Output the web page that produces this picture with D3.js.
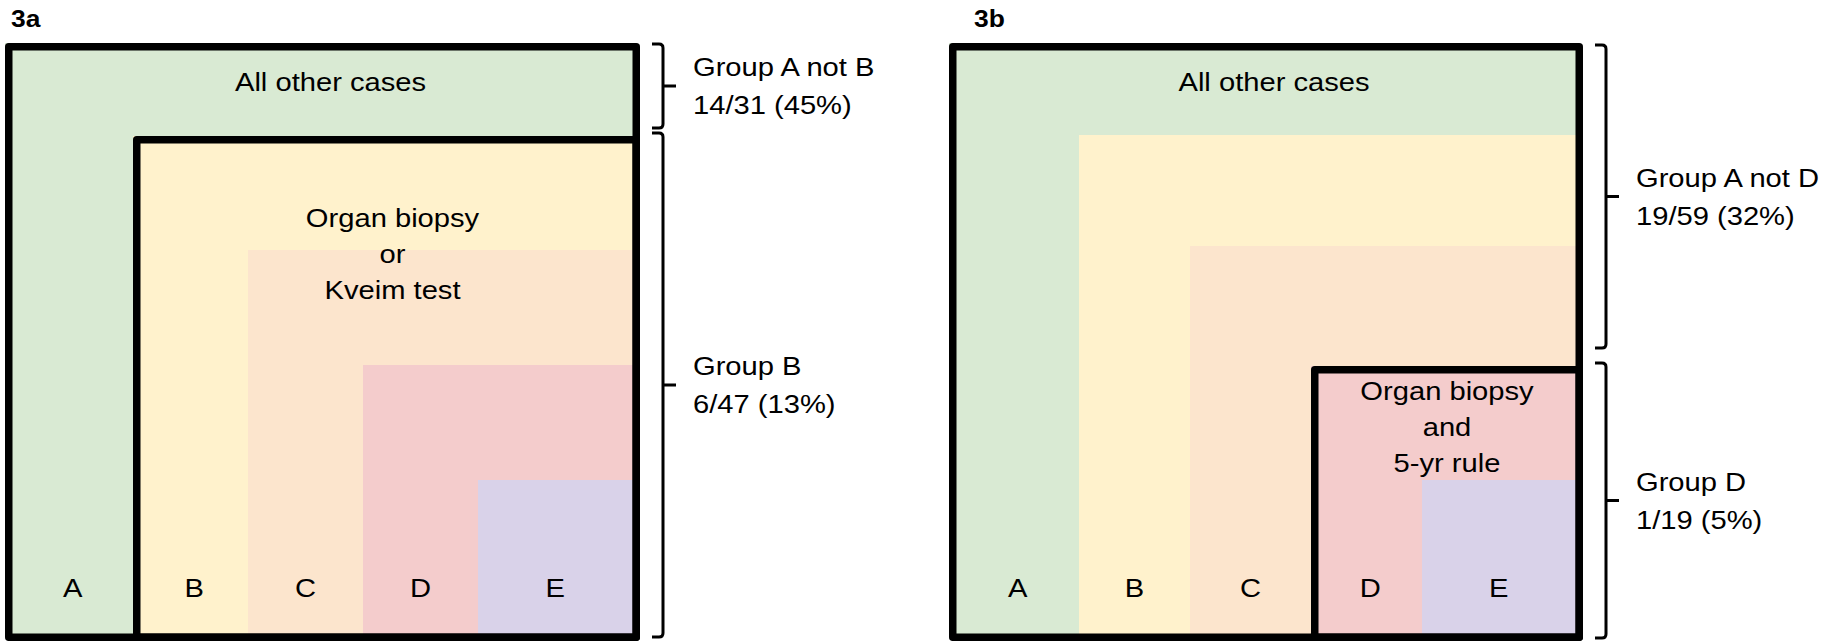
<!DOCTYPE html>
<html>
<head>
<meta charset="utf-8">
<script src="https://cdn.jsdelivr.net/npm/d3@7"></script>
<style>
  html, body { margin: 0; padding: 0; background: #ffffff; }
  svg { display: block; }
  text { font-family: "Liberation Sans", Arial, sans-serif; fill: #000; }
</style>
</head>
<body>
<svg id="chart" width="1837" height="641"></svg>
<script>
// ---------------- DATA ----------------
const panelIds = ["3a", "3b"];
const categories = ["A", "B", "C", "D", "E"];
const outerLabel = "All other cases";
// the category where the framed (highlighted) definition starts
const framedStart = ["B", "D"];
const framedLabels3a = ["Organ biopsy", "or", "Kveim test"];
const framedLabels3b = ["Organ biopsy", "and", "5-yr rule"];
const groupNames3a = ["Group A not B", "Group B"];
const groupEvents3a = [14, 6];
const groupTotals3a = [31, 47];
const groupNames3b = ["Group A not D", "Group D"];
const groupEvents3b = [19, 1];
const groupTotals3b = [59, 19];

// ---------------- STYLE / LAYOUT ----------------
const fillColors = ["#d9ead3", "#fff2cc", "#fce5cd", "#f4cccc", "#d9d2e9"];
const FRAME_W = 7.5;
const FONT = 26.5;
const STRETCH = 1.1;
const layout = [
  { xr: [5, 133, 248, 363, 478, 640], yr: [43, 136, 250, 365, 480, 641],
    titleX: 11, innerBase: 227, innerShift: 6, bracketInsets: [[1, 8], [-3, 4]] },
  { xr: [949, 1079, 1190, 1311, 1422, 1583], yr: [43, 135, 246, 366, 480, 641],
    titleX: 974, innerBase: 400, innerShift: 0, bracketInsets: [[2, 18], [-3, 3]] }
];
const panelData = [
  { labels: framedLabels3a, names: groupNames3a, events: groupEvents3a, totals: groupTotals3a },
  { labels: framedLabels3b, names: groupNames3b, events: groupEvents3b, totals: groupTotals3b }
];

const svg = d3.select("#chart");

function stext(g, x, y, str, opts = {}) {
  const t = g.append("text")
    .attr("transform", `translate(${x},${y}) scale(${opts.stretch || STRETCH},1)`)
    .attr("text-anchor", opts.anchor || "middle")
    .attr("font-size", opts.size || FONT)
    .text(str);
  if (opts.weight) t.attr("font-weight", opts.weight);
  return t;
}

panelIds.forEach((pid, pi) => {
  const L = layout[pi];
  const D = panelData[pi];
  const idx = d3.range(categories.length + 1);
  const x = d3.scaleLinear().domain(idx).range(L.xr);
  const y = d3.scaleLinear().domain(idx).range(L.yr);
  const n = categories.length;
  const g = svg.append("g");
  const h = FRAME_W / 2;
  const fStart = categories.indexOf(framedStart[pi]);

  // panel title
  stext(g, L.titleX, 27, pid, { anchor: "start", size: 24, weight: "bold" });

  // nested fills
  g.selectAll("rect.fill").data(categories).join("rect")
    .attr("class", "fill")
    .attr("x", (d, i) => x(i))
    .attr("y", (d, i) => y(i))
    .attr("width", (d, i) => x(n) - h - x(i))
    .attr("height", (d, i) => y(n) - h - y(i))
    .attr("fill", (d, i) => fillColors[i]);

  // frames: outer (all cases) and inner (framed definition)
  g.selectAll("rect.frame").data([0, fStart]).join("rect")
    .attr("class", "frame")
    .attr("x", d => x(d) + h)
    .attr("y", d => y(d) + h)
    .attr("width", d => x(n) - x(d) - FRAME_W)
    .attr("height", d => y(n) - y(d) - FRAME_W)
    .attr("fill", "none")
    .attr("stroke", "#000")
    .attr("stroke-width", FRAME_W)
    .attr("stroke-linejoin", "round");

  // outer label
  stext(g, (x(0) + x(n)) / 2 + 8, y(0) + 48, outerLabel);

  // framed label
  const cx = (x(fStart) + x(n)) / 2 + L.innerShift;
  D.labels.forEach((s, k) => stext(g, cx, L.innerBase + k * 36, s));

  // category labels
  categories.forEach((c, i) => {
    const left = (i === 0 || i === fStart) ? x(i) + FRAME_W : x(i);
    const right = (i === n - 1) ? x(n) - FRAME_W : x(i + 1);
    stext(g, (left + right) / 2, 597, c);
  });

  // brackets
  const bx = x(n) + 23;
  const spans = [[0, fStart], [fStart, n]];
  spans.forEach((sp, k) => {
    const y0 = y(sp[0]) + L.bracketInsets[k][0];
    const y1 = y(sp[1]) - L.bracketInsets[k][1];
    const ym = (y0 + y1) / 2;
    const r = 4;
    const p = d3.path();
    p.moveTo(bx - 11, y0);
    p.lineTo(bx - r, y0);
    p.quadraticCurveTo(bx, y0, bx, y0 + r);
    p.lineTo(bx, y1 - r);
    p.quadraticCurveTo(bx, y1, bx - r, y1);
    p.lineTo(bx - 11, y1);
    p.moveTo(bx, ym);
    p.lineTo(bx + 13, ym);
    g.append("path").attr("d", p.toString())
      .attr("fill", "none").attr("stroke", "#000").attr("stroke-width", 3);
    const tx = bx + 30;
    stext(g, tx, ym - 10, D.names[k], { anchor: "start" });
    const pct = Math.round(100 * D.events[k] / D.totals[k]);
    stext(g, tx, ym + 28, `${D.events[k]}/${D.totals[k]} (${pct}%)`, { anchor: "start" });
  });
});
</script>
</body>
</html>
